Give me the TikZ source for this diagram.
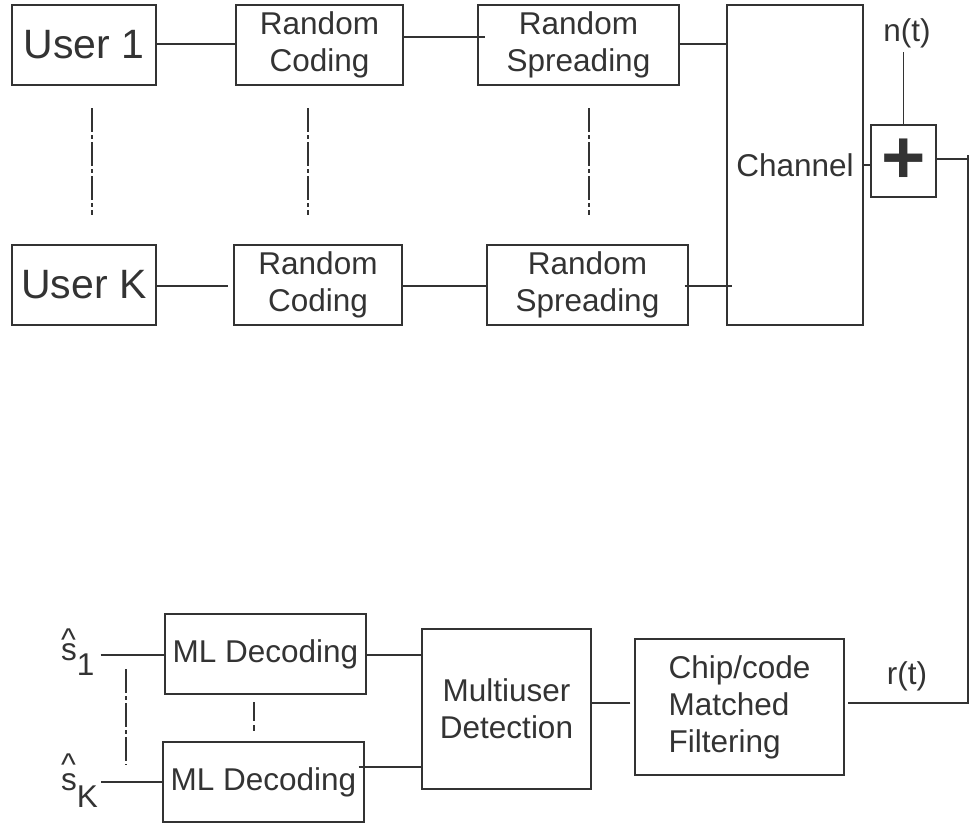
\documentclass[tikz,border=0pt]{standalone}
\usepackage{fontspec}
\setmainfont{Liberation Sans}
\usetikzlibrary{calc}
\definecolor{ink}{HTML}{333333}
\begin{document}
\begin{tikzpicture}[x=1pt,y=-1pt,
  every node/.style={text=ink},
  blk/.style={draw=ink, line width=1.4pt, inner sep=0pt, align=center,
    font=\fontsize{31.5}{37}\selectfont},
  wire/.style={draw=ink, line width=1.4pt},
  dotdash/.style={draw=ink, line width=1.2pt, dash pattern=on 24pt off 3pt on 4pt off 3pt},
  lbl/.style={inner sep=0pt, font=\fontsize{31.5}{36}\selectfont}]
\useasboundingbox (0,0) rectangle (972,823);
% transmitter side
\node[blk, minimum width=144pt, minimum height=80pt, font=\fontsize{41}{48}\selectfont] (u1) at (84,45) {User 1};
\node[blk, minimum width=144pt, minimum height=80pt, font=\fontsize{41}{48}\selectfont] (uK) at (84,285) {User K};
\node[blk, minimum width=167pt, minimum height=80pt] (rc1) at (319.5,45) {Random\\Coding};
\node[blk, minimum width=168pt, minimum height=80pt] (rcK) at (318,285) {Random\\Coding};
\node[blk, minimum width=201pt, minimum height=80pt] (rs1) at (578.5,45) {Random\\Spreading};
\node[blk, minimum width=201pt, minimum height=80pt] (rsK) at (587.5,285) {Random\\Spreading};
\node[blk, minimum width=136pt, minimum height=320pt] (ch) at (795,165) {\raisebox{-3pt}{Channel}};
\node[blk, minimum width=65pt, minimum height=72pt, font=\fontsize{76}{76}\selectfont\bfseries] (plus) at (903.5,161) {\raisebox{-4pt}{+}};
\node[lbl] (nt) at (907,33) {n(t)};
% receiver side
\node[blk, minimum width=201pt, minimum height=80pt] (ml1) at (265.5,654) {ML Decoding};
\node[blk, minimum width=201pt, minimum height=80pt] (mlK) at (263.5,782) {ML Decoding};
\node[blk, minimum width=169pt, minimum height=160pt] (mud) at (506.5,709) {Multiuser\\Detection};
\node[blk, minimum width=209pt, minimum height=136pt, align=left] (cmf) at (739.5,707) {Chip/code\\Matched\\Filtering};
\node[lbl] (rt) at (907,676) {r(t)};
\node[lbl, anchor=base west] (s1) at (61,660) {\rlap{\raisebox{9.5pt}{\textasciicircum}}s\raisebox{-15pt}{1}};
\node[lbl, anchor=base west] (sK) at (61,790) {\rlap{\raisebox{15pt}{\textasciicircum}}s\raisebox{-17pt}{K}};
% connectors
\draw[wire] (u1.east |- 0,44) -- (rc1.west |- 0,44);
\draw[wire] (rc1.east |- 0,37) -- ([xshift=8pt]rs1.west |- 0,37);
\draw[wire] (rs1.east |- 0,44) -- (ch.west |- 0,44);
\draw[wire] (uK.east |- 0,286) -- ([xshift=-5pt]rcK.west |- 0,286);
\draw[wire] (rcK.east |- 0,286) -- (rsK.west |- 0,286);
\draw[wire] ([xshift=-4pt]rsK.east |- 0,286) -- ([xshift=6pt]ch.west |- 0,286);
\draw[wire] (ch.east |- 0,165) -- (plus.west |- 0,165);
\draw[wire] (plus.north |- 0,52) -- (plus.north);
\coordinate (rtop) at (968,155);
\coordinate (rcorner) at (968,703);
\draw[wire] (plus.east |- 0,159) -- (rtop |- 0,159);
\draw[wire] (rtop) -- (rcorner) -- ([xshift=3pt]cmf.east |- rcorner);
\draw[wire] ([xshift=-4pt]cmf.west |- rcorner) -- (mud.east |- rcorner);
\draw[wire] (ml1.east |- 0,655) -- (mud.west |- 0,655);
\draw[wire] ([xshift=-6pt]mlK.east |- 0,767) -- (mud.west |- 0,767);
\draw[wire] ([xshift=6pt]s1.east |- 0,655) -- (ml1.west |- 0,655);
\draw[wire] ([xshift=3pt]sK.east |- 0,782) -- (mlK.west |- 0,782);
% dash-dot continuation marks
\coordinate (d1a) at (92,108);  \coordinate (d1b) at (92,215);
\coordinate (d2a) at (308,108); \coordinate (d2b) at (308,215);
\coordinate (d3a) at (589,108); \coordinate (d3b) at (589,215);
\coordinate (d4a) at (126,669); \coordinate (d4b) at (126,765);
\coordinate (d5a) at (254,702); \coordinate (d5b) at (254,731);
\draw[dotdash] (d1a) -- (d1b);
\draw[dotdash] (d2a) -- (d2b);
\draw[dotdash] (d3a) -- (d3b);
\draw[dotdash] (d4a) -- (d4b);
\draw[draw=ink, line width=1.2pt, dash pattern=on 19pt off 4pt on 6pt off 4pt] (d5a) -- (d5b);
\end{tikzpicture}
\end{document}
